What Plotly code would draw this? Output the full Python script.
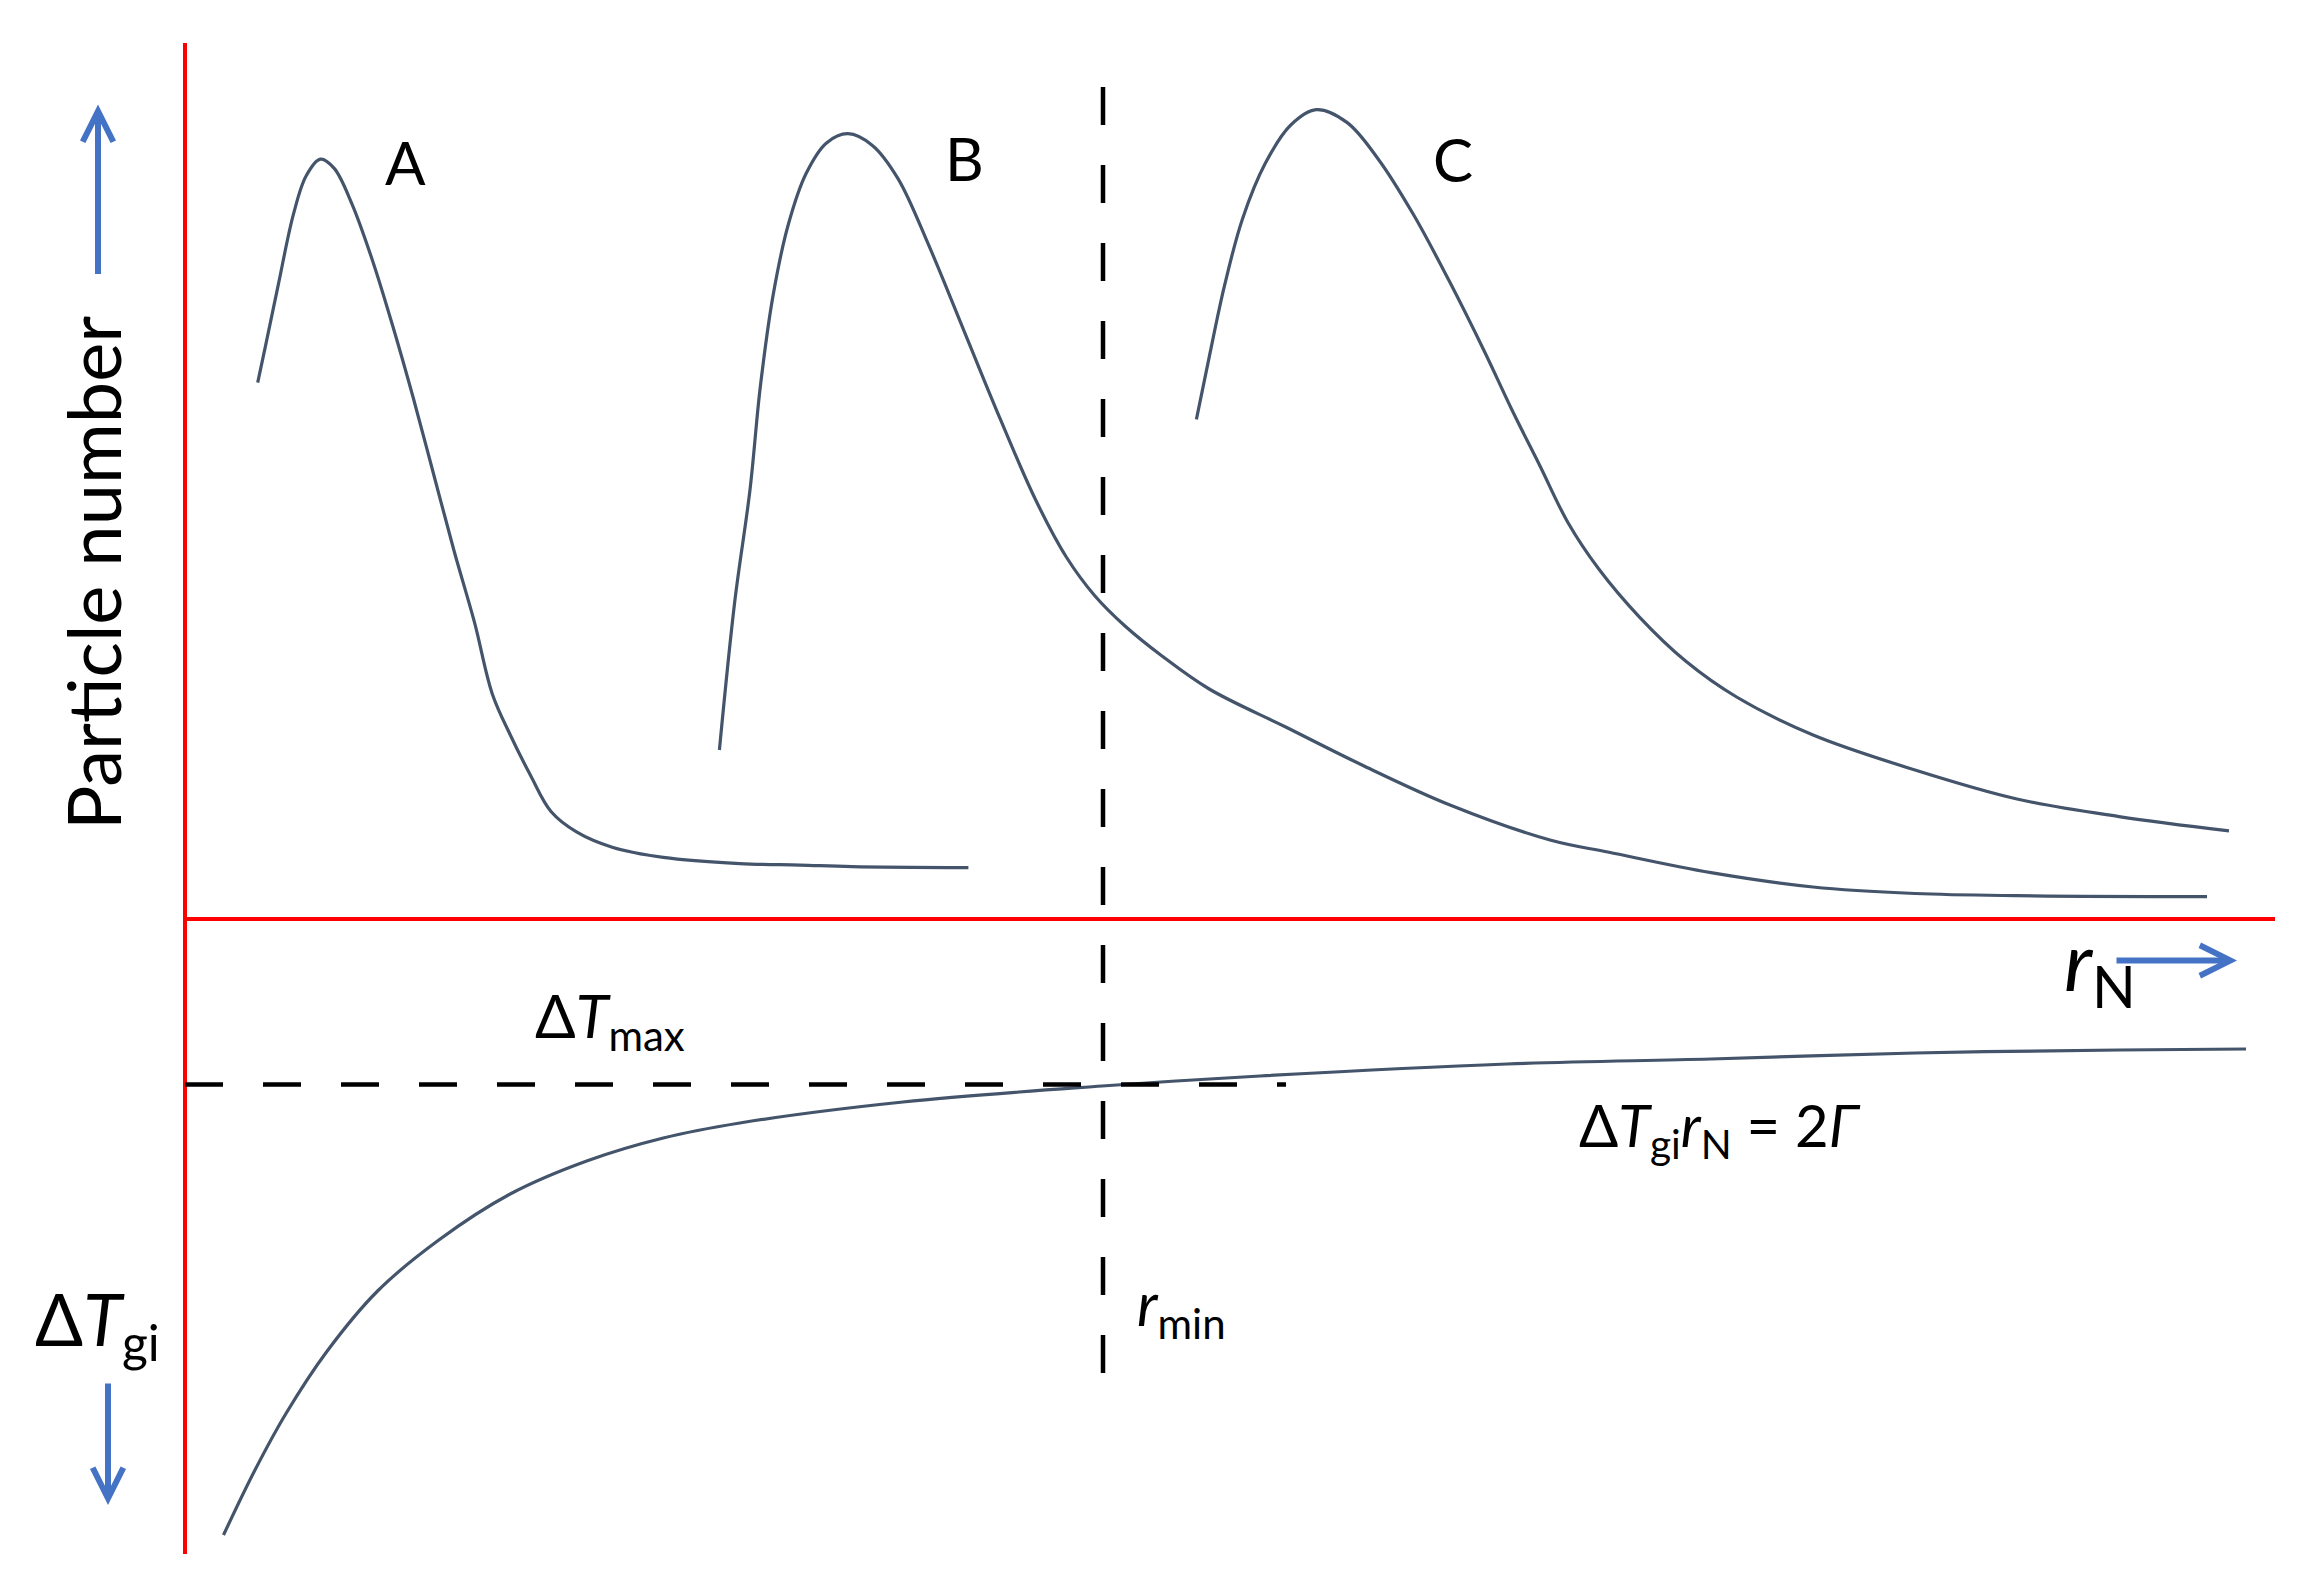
import plotly.graph_objects as go

# ---------------- data (schematic units: r_N along x, particle number / ΔT along y) ----------------
a_x = [7.27, 8.03, 9.31, 10.84, 12.11, 13.54, 14.92, 16.7, 18.74, 20.79, 22.83, 24.87, 26.91,
       28.95, 30.73, 32.52, 34.56, 36.6, 39.15, 42.72, 47.83, 55.48, 61.5, 66.7, 78.34]
a_y = [53.63, 57.21, 63.33, 70.46, 74.3, 75.98, 75.06, 71.49, 65.88, 59.25, 52.1, 44.45, 36.8,
       29.66, 22.51, 18.43, 14.35, 10.75, 8.71, 7.18, 6.16, 5.54, 5.39, 5.24, 5.14]

b_x = [53.44, 54.97, 56.5, 57.52, 58.8, 60.33, 62.11, 64.15, 66.3, 68.74, 71.3, 74.36, 77.93,
       81.5, 85.07, 88.13, 91.0, 94.0, 97.7, 102.42, 110.07, 117.7, 126.5, 136.5, 142.4, 152.6,
       162.8, 173.0, 183.2, 202.2]
b_y = [16.9, 31.7, 42.92, 53.12, 62.31, 69.45, 74.55, 77.61, 78.53, 77.36, 74.04, 67.41, 58.74,
       50.06, 41.9, 36.2, 32.3, 29.3, 26.3, 23.0, 19.2, 15.4, 11.4, 7.9, 6.67, 4.63,
       3.2, 2.55, 2.33, 2.23]

c_x = [101.14, 102.42, 103.95, 105.73, 108.03, 110.58, 113.13, 116.19, 119.26, 122.83, 126.4,
       129.97, 132.7, 135.5, 138.32, 141.38, 145.47, 150.06, 155.16, 162.81, 173.0, 183.2,
       193.4, 204.4]
c_y = [49.96, 56.19, 63.33, 69.96, 75.57, 79.4, 80.93, 79.66, 76.08, 70.47, 63.84,
       56.7, 50.9, 45.3, 39.6, 35.0, 30.17, 25.8, 22.2, 18.4, 14.9, 12.0,
       10.24, 8.81]

dt_x = [3.85, 7.0, 10.07, 14.15, 19.26, 25.38, 32.52, 40.17, 47.83, 55.48, 71.8, 91.7,
        107.5, 132.2, 152.6, 173.0, 193.4, 206.1]
dt_y = [-61.6, -55.1, -49.5, -43.3, -37.2, -32.1, -27.5, -24.2, -21.9, -20.4, -18.3, -16.7,
        -15.7, -14.5, -14.0, -13.4, -13.1, -13.0]

curve_labels = ["A", "B", "C"]
label_x = [22.06, 77.93, 126.8]
label_y = [75.7, 76.1, 76.0]

r_min = 91.8          # position of the r_min line
dt_max = -16.55       # level of ΔT_max
axis_x_end = 209.0
axis_y_top, axis_y_bottom = 87.6, -63.5
rmin_top, rmin_bottom = 83.2, -45.6
dtmax_end = 110.1

# ---------------- figure ----------------
CURVE = "#44546A"
RED = "#FF0000"
BLUE = "#4472C4"
FONT = "Lato"

fig = go.Figure()
for xs, ys in [(a_x, a_y), (b_x, b_y), (c_x, c_y), (dt_x, dt_y)]:
    fig.add_trace(go.Scatter(x=xs, y=ys, mode="lines",
                             line=dict(color=CURVE, width=3.2, shape="spline", smoothing=1.0),
                             hoverinfo="skip", showlegend=False))

shapes = [
    dict(type="line", xref="x", yref="y", x0=0, x1=0, y0=axis_y_top, y1=axis_y_bottom,
         line=dict(color=RED, width=4)),
    dict(type="line", xref="x", yref="y", x0=0, x1=axis_x_end, y0=0, y1=0,
         line=dict(color=RED, width=4)),
    dict(type="line", xref="x", yref="y", x0=r_min, x1=r_min, y0=rmin_top, y1=rmin_bottom,
         line=dict(color="black", width=4.5, dash="38px,40px")),
    dict(type="line", xref="x", yref="y", x0=0, x1=dtmax_end, y0=dt_max, y1=dt_max,
         line=dict(color="black", width=4.5, dash="38px,40px")),
]

ann = []
for t, x, y in zip(curve_labels, label_x, label_y):
    ann.append(dict(x=x, y=y, xref="x", yref="y", text=t, showarrow=False,
                    xanchor="center", yanchor="middle",
                    font=dict(family=FONT, size=60, color="black")))

ann.append(dict(x=-9.3, y=34.6, xref="x", yref="y", text="Particle number", textangle=-90,
                showarrow=False, xanchor="center", yanchor="middle",
                font=dict(family=FONT, size=74, color="black")))

ann.append(dict(x=34.8, y=-10.0, xref="x", yref="y", text="Δ<i>T</i><sub>max</sub>",
                showarrow=False, xanchor="left", yanchor="middle",
                font=dict(family=FONT, size=60, color="black")))
ann.append(dict(x=95.0, y=-38.8, xref="x", yref="y", text="<i>r</i><sub>min</sub>",
                showarrow=False, xanchor="left", yanchor="middle",
                font=dict(family=FONT, size=60, color="black")))
ann.append(dict(x=187.7, y=-4.6, xref="x", yref="y", text="<i>r</i><sub>N</sub>",
                showarrow=False, xanchor="left", yanchor="middle",
                font=dict(family=FONT, size=82, color="black")))
ann.append(dict(x=139.2, y=-21.0, xref="x", yref="y",
                text="Δ<i>T</i><sub>gi</sub><i>r</i><sub>N</sub> = 2<i>Γ</i>",
                showarrow=False, xanchor="left", yanchor="middle",
                font=dict(family=FONT, size=58, color="black")))
ann.append(dict(x=-15.2, y=-40.5, xref="x", yref="y", text="Δ<i>T</i><sub>gi</sub>",
                showarrow=False, xanchor="left", yanchor="middle",
                font=dict(family=FONT, size=71, color="black")))

# blue direction arrows (tail -> tip)
arrows = [((-8.7, 64.35), (-8.7, 81.44)),
          ((-7.7, -46.3), (-7.7, -58.6)),
          ((193.0, -4.15), (205.2, -4.15))]
for (tx, ty), (hx, hy) in arrows:
    ann.append(dict(x=hx, y=hy, ax=tx, ay=ty, xref="x", yref="y", axref="x", ayref="y",
                    text="", showarrow=True, arrowhead=5, arrowsize=1.0, arrowwidth=6,
                    arrowcolor=BLUE, standoff=0, startstandoff=0))

fig.update_layout(
    width=2307, height=1586, autosize=False,
    margin=dict(l=0, r=0, t=0, b=0, pad=0),
    paper_bgcolor="white", plot_bgcolor="white",
    shapes=shapes, annotations=ann,
    xaxis=dict(range=[-18.5, 212.2], visible=False, showgrid=False, zeroline=False, fixedrange=True),
    yaxis=dict(range=[-66.7, 91.9], visible=False, showgrid=False, zeroline=False, fixedrange=True),
)

fig.write_html("out.html", config={"displayModeBar": False},
               post_script="document.body.style.margin='0';document.body.style.overflow='hidden';")
